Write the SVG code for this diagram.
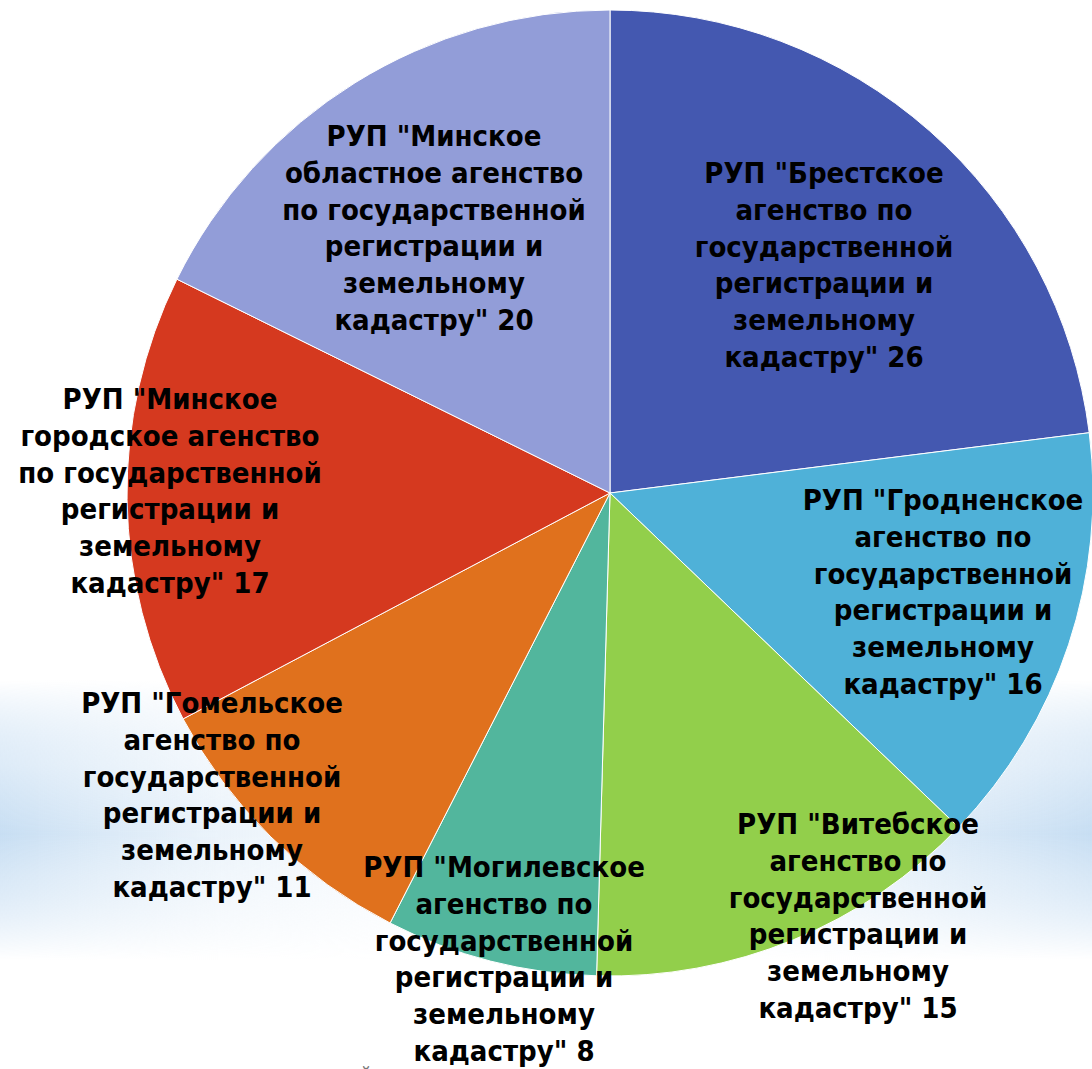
<svg xmlns="http://www.w3.org/2000/svg" width="1092" height="1069" viewBox="0 0 1092 1069">
<defs>
<style>
.lbl{font-family:"DejaVu Sans Condensed","DejaVu Sans",sans-serif;font-weight:bold;font-size:29px;fill:#000;text-anchor:middle}
.sl{stroke:#ffffff;stroke-width:1;stroke-linejoin:round}
</style>
<linearGradient id="hband" x1="0" y1="0" x2="1" y2="0">
<stop offset="0" stop-color="#c4dcf2" stop-opacity="0.95"/>
<stop offset="0.2" stop-color="#d6e7f6" stop-opacity="0.5"/>
<stop offset="0.45" stop-color="#e6f0fa" stop-opacity="0.15"/>
<stop offset="0.7" stop-color="#d6e7f6" stop-opacity="0.4"/>
<stop offset="1" stop-color="#c4dcf2" stop-opacity="0.95"/>
</linearGradient>
<linearGradient id="vfade" x1="0" y1="0" x2="0" y2="1">
<stop offset="0" stop-color="#000"/>
<stop offset="0.3" stop-color="#fff" stop-opacity="0.6"/>
<stop offset="0.55" stop-color="#fff"/>
<stop offset="0.7" stop-color="#fff" stop-opacity="0.7"/>
<stop offset="1" stop-color="#000"/>
</linearGradient>
<mask id="bandmask" maskUnits="userSpaceOnUse" x="0" y="680" width="1092" height="280">
<rect x="0" y="680" width="1092" height="280" fill="url(#vfade)"/>
</mask>
</defs>
<rect x="0" y="0" width="1092" height="1069" fill="#ffffff"/>
<rect x="0" y="680" width="1092" height="280" fill="url(#hband)" mask="url(#bandmask)"/>
<text x="366" y="1081" style="font-family:'DejaVu Sans',sans-serif;font-size:20px;fill:#777;text-anchor:middle">й</text>

<g id="slices">
<g id="brest"><path class="sl" fill="#4458B0" d="M610,493 L610,10 A483,483 0 0 1 1089.22,432.73 Z"/></g>
<g id="grodno"><path class="sl" fill="#4FB1D8" d="M610,493 L1089.22,432.73 A483,483 0 0 1 958.61,827.30 Z"/></g>
<g id="vitebsk"><path class="sl" fill="#92CF4B" d="M610,493 L958.61,827.30 A483,483 0 0 1 596.57,975.81 Z"/></g>
<g id="mogilev"><path class="sl" fill="#52B69D" d="M610,493 L596.57,975.81 A483,483 0 0 1 390.07,923.02 Z"/></g>
<g id="gomel"><path class="sl" fill="#E0711D" d="M610,493 L390.07,923.02 A483,483 0 0 1 183.10,718.92 Z"/></g>
<g id="minsk-city"><path class="sl" fill="#D5391F" d="M610,493 L183.10,718.92 A483,483 0 0 1 176.91,279.19 Z"/></g>
<g id="minsk-region"><path class="sl" fill="#929DD8" d="M610,493 L176.91,279.19 A483,483 0 0 1 610,10 Z"/></g>
</g>

<g id="labels">
<text id="brest-label" class="lbl" x="824" y="183"><tspan x="824">РУП "Брестское</tspan><tspan x="824" dy="36.8">агенство по</tspan><tspan x="824" dy="36.8">государственной</tspan><tspan x="824" dy="36.8">регистрации и</tspan><tspan x="824" dy="36.8">земельному</tspan><tspan x="824" dy="36.8">кадастру" 26</tspan></text>
<text id="grodno-label" class="lbl" x="943" y="510"><tspan x="943">РУП "Гродненское</tspan><tspan x="943" dy="36.8">агенство по</tspan><tspan x="943" dy="36.8">государственной</tspan><tspan x="943" dy="36.8">регистрации и</tspan><tspan x="943" dy="36.8">земельному</tspan><tspan x="943" dy="36.8">кадастру" 16</tspan></text>
<text id="vitebsk-label" class="lbl" x="858" y="834"><tspan x="858">РУП "Витебское</tspan><tspan x="858" dy="36.8">агенство по</tspan><tspan x="858" dy="36.8">государственной</tspan><tspan x="858" dy="36.8">регистрации и</tspan><tspan x="858" dy="36.8">земельному</tspan><tspan x="858" dy="36.8">кадастру" 15</tspan></text>
<text id="mogilev-label" class="lbl" x="504" y="877"><tspan x="504">РУП "Могилевское</tspan><tspan x="504" dy="36.8">агенство по</tspan><tspan x="504" dy="36.8">государственной</tspan><tspan x="504" dy="36.8">регистрации и</tspan><tspan x="504" dy="36.8">земельному</tspan><tspan x="504" dy="36.8">кадастру" 8</tspan></text>
<text id="gomel-label" class="lbl" x="212" y="713"><tspan x="212">РУП "Гомельское</tspan><tspan x="212" dy="36.8">агенство по</tspan><tspan x="212" dy="36.8">государственной</tspan><tspan x="212" dy="36.8">регистрации и</tspan><tspan x="212" dy="36.8">земельному</tspan><tspan x="212" dy="36.8">кадастру" 11</tspan></text>
<text id="minsk-city-label" class="lbl" x="170" y="409"><tspan x="170">РУП "Минское</tspan><tspan x="170" dy="36.8">городское агенство</tspan><tspan x="170" dy="36.8">по государственной</tspan><tspan x="170" dy="36.8">регистрации и</tspan><tspan x="170" dy="36.8">земельному</tspan><tspan x="170" dy="36.8">кадастру" 17</tspan></text>
<text id="minsk-region-label" class="lbl" x="434" y="146"><tspan x="434">РУП "Минское</tspan><tspan x="434" dy="36.8">областное агенство</tspan><tspan x="434" dy="36.8">по государственной</tspan><tspan x="434" dy="36.8">регистрации и</tspan><tspan x="434" dy="36.8">земельному</tspan><tspan x="434" dy="36.8">кадастру" 20</tspan></text>
</g>
</svg>
